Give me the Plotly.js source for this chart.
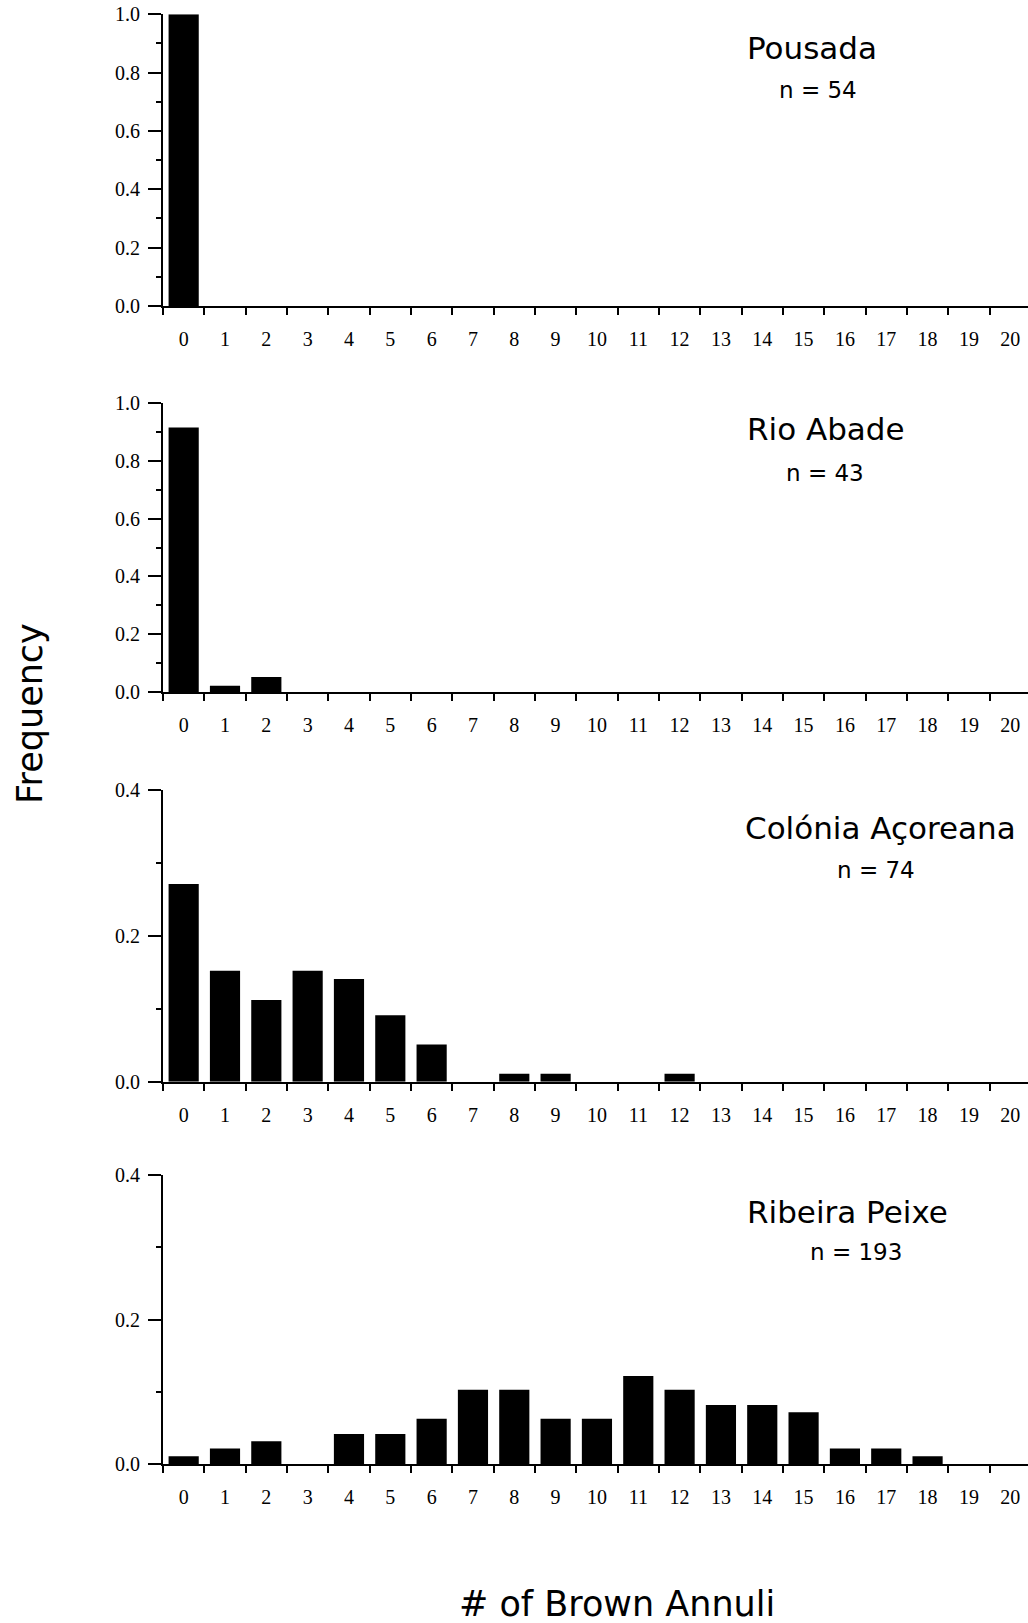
<!DOCTYPE html>
<html>
<head>
<meta charset="utf-8">
<script src="https://cdn.plot.ly/plotly-3.0.1.min.js"></script>
<style>html,body{margin:0;padding:0;background:#fff;}#chart{width:1028px;height:1623px;}</style>
</head>
<body>
<div id="chart"></div>
<script>
// ---- data ----
const categories = ['0','1','2','3','4','5','6','7','8','9','10','11','12','13','14','15','16','17','18','19','20'];
const pousada  = [1.0, 0, 0, 0, 0, 0, 0, 0, 0, 0, 0, 0, 0, 0, 0, 0, 0, 0, 0, 0, 0];
const rioAbade = [0.914, 0.023, 0.053, 0, 0, 0, 0, 0, 0, 0, 0, 0, 0, 0, 0, 0, 0, 0, 0, 0, 0];
const colonia  = [0.271, 0.152, 0.112, 0.152, 0.141, 0.091, 0.051, 0, 0.011, 0.011, 0, 0, 0.011, 0, 0, 0, 0, 0, 0, 0, 0];
const ribeira  = [0.011, 0.022, 0.032, 0, 0.042, 0.042, 0.063, 0.103, 0.103, 0.063, 0.063, 0.122, 0.103, 0.082, 0.082, 0.072, 0.022, 0.022, 0.011, 0, 0];
const siteNames = ['Pousada', 'Rio Abade', 'Colónia Açoreana', 'Ribeira Peixe'];
const sampleSizes = ['n = 54', 'n = 43', 'n = 74', 'n = 193'];
const yMax = [1.0, 1.0, 0.4, 0.4];
const xTitle = '# of Brown Annuli';
const yTitle = 'Frequency';

// ---- layout helpers ----
const W = 1028, H = 1623;
const px = v => v / W;
const py = v => 1 - v / H;
const panelTop = [14.3, 402.7, 790, 1175];
const panelBot = [306, 692.3, 1081.7, 1464.3];
const seriesList = [pousada, rioAbade, colonia, ribeira];

const tickFont = {family: 'Liberation Serif, Times New Roman, serif', size: 20, color: '#000'};
const sansFont = 'DejaVu Sans, Verdana, sans-serif';

const data = [];
const layout = {
  width: W, height: H,
  margin: {l: 0, r: 0, t: 0, b: 0},
  paper_bgcolor: '#fff', plot_bgcolor: '#fff',
  showlegend: false,
  bargap: 0.27,
  annotations: [],
  font: {family: sansFont, color: '#000'}
};

seriesList.forEach((vals, i) => {
  const k = i === 0 ? '' : String(i + 1);
  data.push({
    type: 'bar', x: categories, y: vals,
    xaxis: 'x' + k, yaxis: 'y' + k,
    marker: {color: '#000', line: {width: 0}},
    hoverinfo: 'skip'
  });
  layout['xaxis' + k] = {
    type: 'category',
    domain: [px(163), 1],
    range: [-0.5, 20.43],
    anchor: 'y' + k,
    tickmode: 'linear', tick0: 0, dtick: 1,
    tickson: 'boundaries',
    ticks: 'outside', ticklen: 7, tickwidth: 2, tickcolor: '#000',
    showline: true, linecolor: '#000', linewidth: 2,
    showgrid: false, zeroline: false,
    tickfont: tickFont,
    ticklabelstandoff: 14,
    fixedrange: true
  };
  layout['yaxis' + k] = {
    domain: [py(panelBot[i]), py(panelTop[i])],
    range: [0, yMax[i]],
    anchor: 'x' + k,
    tickmode: 'linear', tick0: 0, dtick: 0.2,
    tickformat: '.1f',
    ticks: 'outside', ticklen: 13, tickwidth: 2, tickcolor: '#000',
    minor: {dtick: 0.1, ticks: 'outside', ticklen: 5, tickwidth: 2, tickcolor: '#000'},
    showline: true, linecolor: '#000', linewidth: 2,
    showgrid: false, zeroline: false,
    tickfont: tickFont,
    ticklabelstandoff: 4,
    fixedrange: true
  };
});

// panel titles (name + sample size), positioned by baseline
const titlePos = [
  {x: 811.7, base: 59, nx: 818, nbase: 97.7},
  {x: 826, base: 440, nx: 824.5, nbase: 481.5},
  {x: 880, base: 839, nx: 875.5, nbase: 878.3},
  {x: 847, base: 1223.3, nx: 856, nbase: 1260}
];
const titleSize = 31, nSize = 23;
titlePos.forEach((p, i) => {
  layout.annotations.push({
    xref: 'paper', yref: 'paper', x: px(p.x), y: py(p.base - 0.35 * titleSize),
    xanchor: 'center', yanchor: 'middle', showarrow: false,
    text: siteNames[i], font: {family: sansFont, size: titleSize, color: '#000'}
  });
  layout.annotations.push({
    xref: 'paper', yref: 'paper', x: px(p.nx), y: py(p.nbase - 0.35 * nSize),
    xanchor: 'center', yanchor: 'middle', showarrow: false,
    text: sampleSizes[i], font: {family: sansFont, size: nSize, color: '#000'}
  });
});

// shared axis titles
layout.annotations.push({
  xref: 'paper', yref: 'paper', x: px(30), y: py(714),
  xanchor: 'center', yanchor: 'middle', showarrow: false, textangle: -90,
  text: yTitle, font: {family: sansFont, size: 35, color: '#000'}
});
layout.annotations.push({
  xref: 'paper', yref: 'paper', x: px(617), y: py(1604),
  xanchor: 'center', yanchor: 'middle', showarrow: false,
  text: xTitle, font: {family: sansFont, size: 35, color: '#000'}
});

Plotly.newPlot('chart', data, layout, {staticPlot: true, displayModeBar: false});
</script>
</body>
</html>
